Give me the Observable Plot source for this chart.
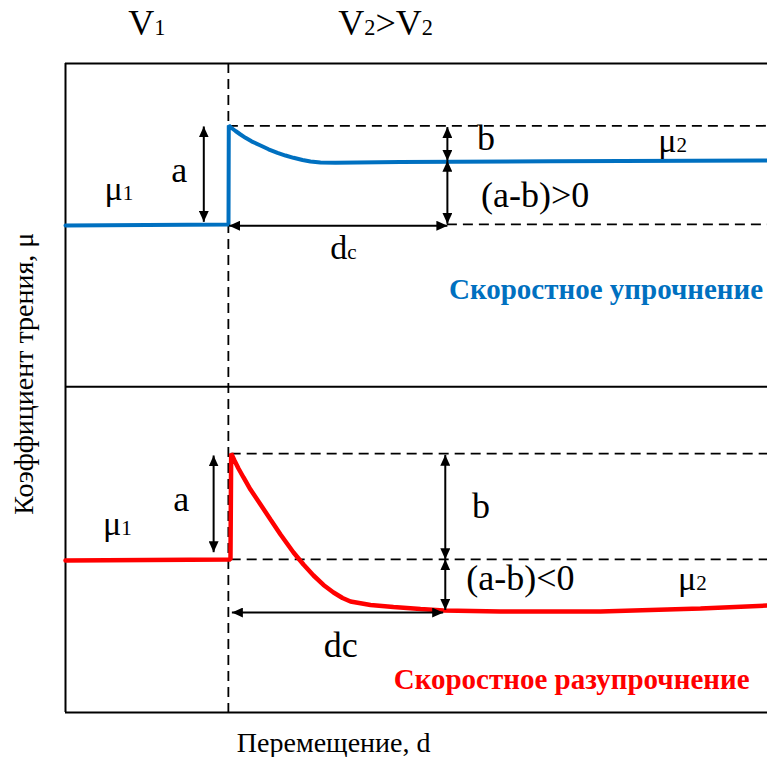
<!DOCTYPE html>
<html><head><meta charset="utf-8">
<script src="https://cdn.jsdelivr.net/npm/d3@7"></script>
<script src="https://cdn.jsdelivr.net/npm/@observablehq/plot@0.6"></script>
<style>html,body{margin:0;padding:0;background:#fff;} #chart{width:767px;height:757px;}</style>
</head><body><div id="chart"></div>
<script>
// ---- Curves (displacement, friction-coefficient units) ----
const blueX = [0, 23.22, 23.26, 23.65, 24.22, 24.93, 25.64, 26.50, 27.78, 28.92, 30.20, 31.34, 32.48, 33.76, 34.90, 36.32, 38.46, 47.72, 69.09, 100];
const blueY = [75.04, 75.19, 90.45, 90.06, 89.60, 89.06, 88.55, 88.01, 87.37, 86.78, 86.24, 85.82, 85.47, 85.13, 84.90, 84.75, 84.70, 84.82, 84.95, 85.05];
const redX = [0, 23.50, 23.60, 24.07, 24.64, 25.36, 26.35, 27.78, 29.20, 30.63, 32.48, 33.90, 35.33, 36.75, 38.18, 39.46, 40.60, 43.45, 46.72, 50.57, 53.85, 61.97, 76.21, 90.46, 100];
const redY = [23.42, 23.57, 39.91, 38.83, 37.60, 36.21, 34.36, 32.05, 29.74, 27.43, 24.65, 22.80, 21.11, 19.65, 18.49, 17.64, 17.10, 16.56, 16.26, 15.95, 15.72, 15.56, 15.56, 16.02, 16.49];

// ---- Frame ----
const frameXMin = 0, frameXMax = 100, frameYMin = 0, frameYMax = 100;
const panelDivider = [0, 50.2, 100];
const speedChangeX = 23.2;

// ---- Dashed reference levels ----
const dashY  = [90.4, 75.2, 39.9, 23.6];
const dashX1 = [23.2, 54.4, 23.6, 23.6];
const dashX2 = [100, 100, 100, 100];

// ---- Dimension arrows (double-headed) ----
const arrX1 = [19.7, 54.4, 54.4, 23.3, 21.1, 54.1, 54.1, 23.7];
const arrY1 = [90.3, 90.2, 85.0, 75.0, 39.6, 39.7, 23.6, 15.4];
const arrX2 = [19.7, 54.4, 54.4, 54.4, 21.1, 54.1, 54.1, 53.8];
const arrY2 = [75.6, 85.0, 75.3, 75.0, 24.7, 23.6, 15.8, 15.4];

// ---- Annotation labels ("_x" = subscript) ----
const labText = ["a", "μ_1", "b", "μ_2", "(a-b)>0", "d_c", "a", "μ_1", "b", "(a-b)<0", "μ_2", "dc"];
const labX    = [16.2, 7.6, 59.9, 86.5, 66.9, 39.6, 16.5, 7.4, 59.2, 64.8, 89.3, 39.2];
const labY    = [83.5, 80.6, 88.4, 88.0, 79.6, 71.6, 32.9, 29.0, 31.8, 20.6, 20.5, 10.4];
const labSize = [36, 34, 36, 34, 36, 34, 36, 34, 36, 36, 34, 36];

const headText = ["V_1", "V_2>V_2"];
const headX = [11.6, 45.6];
const headY = [106.2, 106.2];

const titleText = ["Скоростное упрочнение", "Скоростное разупрочнение"];
const titleX = [77.0, 72.1];
const titleY = [65.1, 5.1];
const titleColor = ["#0070C0", "#FF0000"];

const xLabel = "Перемещение, d";
const yLabel = "Коэффициент трения, μ";

// ---- Build tables ----
const blue = blueX.map((x, i) => ({x, y: blueY[i]}));
const red = redX.map((x, i) => ({x, y: redY[i]}));
const dashes = dashY.map((y, i) => ({y, x1: dashX1[i], x2: dashX2[i]}));
const arrows = arrX1.map((x1, i) => ({x1, y1: arrY1[i], x2: arrX2[i], y2: arrY2[i]}));
const labels = labText.map((t, i) => ({t, x: labX[i], y: labY[i], s: labSize[i]}));
const heads = headText.map((t, i) => ({t, x: headX[i], y: headY[i]}));
const titles = titleText.map((t, i) => ({t, x: titleX[i], y: titleY[i], c: titleColor[i]}));

const chart = Plot.plot({
  width: 767, height: 757,
  marginLeft: 65, marginRight: 0, marginTop: 63, marginBottom: 45,
  x: {domain: [frameXMin, frameXMax], axis: null},
  y: {domain: [frameYMin, frameYMax], axis: null},
  style: {fontFamily: "'Liberation Serif','Times New Roman',serif", background: "#fff", overflow: "visible", color: "black"},
  marks: [
    Plot.ruleY(dashes, {y: "y", x1: "x1", x2: "x2", stroke: "black", strokeWidth: 1.8, strokeDasharray: "10,6"}),
    Plot.ruleX([speedChangeX], {y1: frameYMax, y2: frameYMin, stroke: "black", strokeWidth: 1.8, strokeDasharray: "10,6"}),
    Plot.ruleX([frameXMin], {y1: frameYMin, y2: frameYMax, stroke: "black", strokeWidth: 2}),
    Plot.ruleY(panelDivider, {x1: frameXMin, x2: frameXMax, stroke: "black", strokeWidth: 2}),
    Plot.line(blue, {x: "x", y: "y", stroke: "#0070C0", strokeWidth: 4, strokeLinejoin: "miter"}),
    Plot.line(red, {x: "x", y: "y", stroke: "#FF0000", strokeWidth: 4.5, strokeLinejoin: "miter"}),
    Plot.link(arrows, {x1: "x1", y1: "y1", x2: "x2", y2: "y2", stroke: "black", strokeWidth: 2}),
    Plot.text(labels, {x: "x", y: "y", text: "t", fontSize: "s", fill: "black"}),
    Plot.text(heads, {x: "x", y: "y", text: "t", fontSize: 36, fill: "black"}),
    Plot.text(titles, {x: "x", y: "y", text: "t", fill: "c", fontSize: 29, fontWeight: "bold"}),
    Plot.text([xLabel], {x: 38.2, y: -4.7, text: d => d, fontSize: 28, fill: "black"}),
    Plot.text([yLabel], {x: -5.84, y: 52.2, text: d => d, fontSize: 28, rotate: -90, fill: "black"})
  ]
});

document.getElementById("chart").appendChild(chart);

// subscripts
const svg = d3.select(chart);
svg.selectAll("text").each(function () {
  const t = this.textContent;
  if (!t.includes("_")) return;
  const sel = d3.select(this);
  sel.text(null);
  t.split(/_(.)/).forEach((p, i) => {
    if (!p) return;
    const ts = sel.append("tspan").text(p);
    if (i % 2 === 1) ts.attr("font-size", "0.62em");
  });
});

// filled arrowheads on the dimension links
const defs = svg.insert("defs", ":first-child");
defs.append("marker").attr("id", "ahead").attr("viewBox", "0 0 11 10")
  .attr("refX", 11).attr("refY", 5).attr("markerWidth", 11).attr("markerHeight", 10)
  .attr("markerUnits", "userSpaceOnUse").attr("orient", "auto-start-reverse")
  .append("path").attr("d", "M0,0L11,5L0,10Z").attr("fill", "black").attr("stroke", "none");
chart.querySelectorAll("g").forEach(g => {
  const lab = g.getAttribute("aria-label") || "";
  if (lab === "link") {
    g.querySelectorAll("path").forEach(p => {
      p.setAttribute("marker-start", "url(#ahead)");
      p.setAttribute("marker-end", "url(#ahead)");
    });
  }
});
</script>
</body></html>
